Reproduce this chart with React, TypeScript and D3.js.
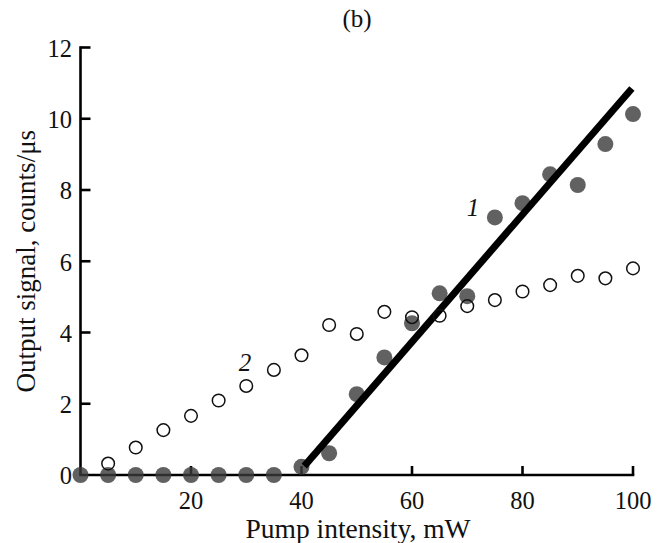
import React from "react";
import * as d3 from "d3";

const pumpX = [0, 5, 10, 15, 20, 25, 30, 35, 40, 45, 50, 55, 60, 65, 70, 75, 80, 85, 90, 95, 100];
const series1 = [0, 0, 0, 0, 0, 0, 0, 0, 0.23, 0.61, 2.27, 3.3, 4.26, 5.1, 5.02, 7.23, 7.63, 8.44, 8.14, 9.29, 10.13];
const series2 = [0, 0.32, 0.77, 1.26, 1.66, 2.09, 2.5, 2.95, 3.36, 4.21, 3.96, 4.58, 4.43, 4.47, 4.74, 4.91, 5.15, 5.33, 5.59, 5.52, 5.8];
const fitLine: [number, number][] = [[40.5, 0.25], [99.8, 10.85]];
const xTicks = [20, 40, 60, 80, 100];
const yTicks = [0, 2, 4, 6, 8, 10, 12];

const W = 658;
const H = 543;
const FONT = "'Liberation Serif', 'Times New Roman', serif";

export default function App() {
  const x = d3.scaleLinear().domain([0, 100]).range([80.5, 633]);
  const y = d3.scaleLinear().domain([0, 12]).range([475, 47.5]);
  const line = d3.line<[number, number]>().x((d) => x(d[0])).y((d) => y(d[1]));

  return (
    <svg
      width={W}
      height={H}
      style={{ position: "absolute", left: 0, top: 0, display: "block", background: "#fff" }}
      fontFamily={FONT}
    >
      <text x={357} y={27} fontSize={25} textAnchor="middle" fill="#111">(b)</text>

      {/* axes */}
      <line x1={x(0)} x2={x(0)} y1={y(0)} y2={y(12) - 1.3} stroke="#000" strokeWidth={2.6} />
      <line x1={x(0) - 1.3} x2={x(100) + 1.3} y1={y(0)} y2={y(0)} stroke="#000" strokeWidth={2.6} />
      {yTicks.filter((t) => t > 0).map((t) => (
        <line key={"yt" + t} x1={x(0)} x2={x(0) + 10} y1={y(t)} y2={y(t)} stroke="#000" strokeWidth={2.6} />
      ))}
      {xTicks.map((t) => (
        <line key={"xt" + t} x1={x(t)} x2={x(t)} y1={y(0)} y2={y(0) - 9} stroke="#000" strokeWidth={2.6} />
      ))}
      {yTicks.map((t) => (
        <text key={"yl" + t} x={72} y={y(t)} dy="0.38em" fontSize={24.5} textAnchor="end" fill="#111">{t}</text>
      ))}
      {xTicks.map((t) => (
        <text key={"xl" + t} x={x(t)} y={508.5} fontSize={24.5} textAnchor="middle" fill="#111">{t}</text>
      ))}

      <text x={358} y={537.5} fontSize={27.5} textAnchor="middle" fill="#111">Pump intensity, mW</text>
      <text
        transform={`translate(34.5, ${(y(0) + y(12)) / 2}) rotate(-90)`}
        fontSize={27}
        textAnchor="middle"
        fill="#111"
      >
        Output signal, counts/μs
      </text>

      {/* series 1 filled */}
      {pumpX.map((px, i) => (
        <circle key={"f" + i} cx={x(px)} cy={y(series1[i])} r={8} fill="#3a3a3a" fillOpacity={0.8} />
      ))}

      {/* fit line */}
      <path d={line(fitLine) || ""} stroke="#000" strokeWidth={7} fill="none" />

      {/* series 2 open */}
      {pumpX.map((px, i) =>
        i === 0 ? null : (
          <circle key={"o" + i} cx={x(px)} cy={y(series2[i])} r={6.3} fill="none" stroke="#111" strokeWidth={1.5} />
        )
      )}

      <text x={473} y={207} dy="0.34em" fontSize={25} fontStyle="italic" textAnchor="middle" fill="#111">1</text>
      <text x={245} y={362} dy="0.34em" fontSize={25} fontStyle="italic" textAnchor="middle" fill="#111">2</text>
    </svg>
  );
}
